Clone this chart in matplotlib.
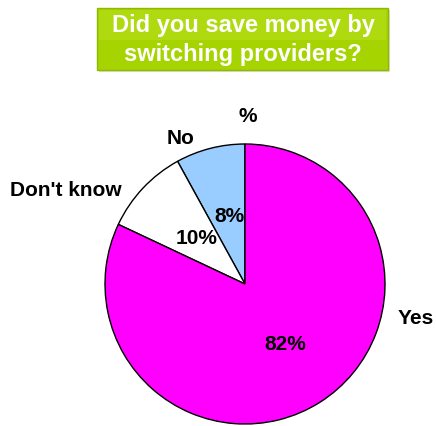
import matplotlib
matplotlib.use("Agg")
import matplotlib.pyplot as plt
from matplotlib.patches import Rectangle

categories = ["No", "Don't know", "Yes"]
values = [8, 10, 82]
colors = ["#99ccff", "#ffffff", "#ff00ff"]
title = "Did you save money by\nswitching providers?"
unit_label = "%"

W, H = 436, 426
plt.rcParams['font.family'] = ['Liberation Sans', 'DejaVu Sans']
fig = plt.figure(figsize=(W / 100, H / 100), dpi=100)
ax = fig.add_axes([0, 0, 1, 1])

# title box
ax.add_patch(Rectangle((99, H - 72), 291, 62, facecolor="#c8c8c8", edgecolor="none", alpha=0.6))
ax.add_patch(Rectangle((97, H - 70), 291, 62, facecolor="#a6d400", edgecolor="#8fb800", linewidth=1))
ax.add_patch(Rectangle((99, H - 40), 287, 30, facecolor="#b8e020", edgecolor="none", alpha=0.5))
ax.text(243, H - 40, title, ha='center', va='center', color='white', fontsize=17,
        fontweight='bold', linespacing=1.3)

wedges, texts, autotexts = ax.pie(values, colors=colors, startangle=90, counterclock=True,
                                  center=(245, H - 284), radius=140,
                                  wedgeprops=dict(edgecolor='black', linewidth=1),
                                  autopct='%d%%', pctdistance=0.5, labels=categories,
                                  labeldistance=1.15, frame=True,
                                  textprops=dict(fontsize=15, fontweight='bold'))
ax.set_xlim(0, W)
ax.set_ylim(0, H)
ax.axis('off')
ax.set_aspect('auto')

label_pos = {"No": (181, 138, 'center'), "Don't know": (122, 190, 'right'), "Yes": (398, 318, 'left')}
for t, c in zip(texts, categories):
    x, y, ha = label_pos[c]
    t.set_position((x, H - y))
    t.set_ha(ha)
    t.set_va('center')

pct_pos = [(229, 217), (197, 239), (285, 345)]
for t, (x, y) in zip(autotexts, pct_pos):
    t.set_position((x, H - y))
    t.set_ha('center')
    t.set_va('center')

ax.text(248, H - 116, unit_label, ha='center', va='center', fontsize=15, fontweight='bold')

fig.savefig("out.png", dpi=100)
